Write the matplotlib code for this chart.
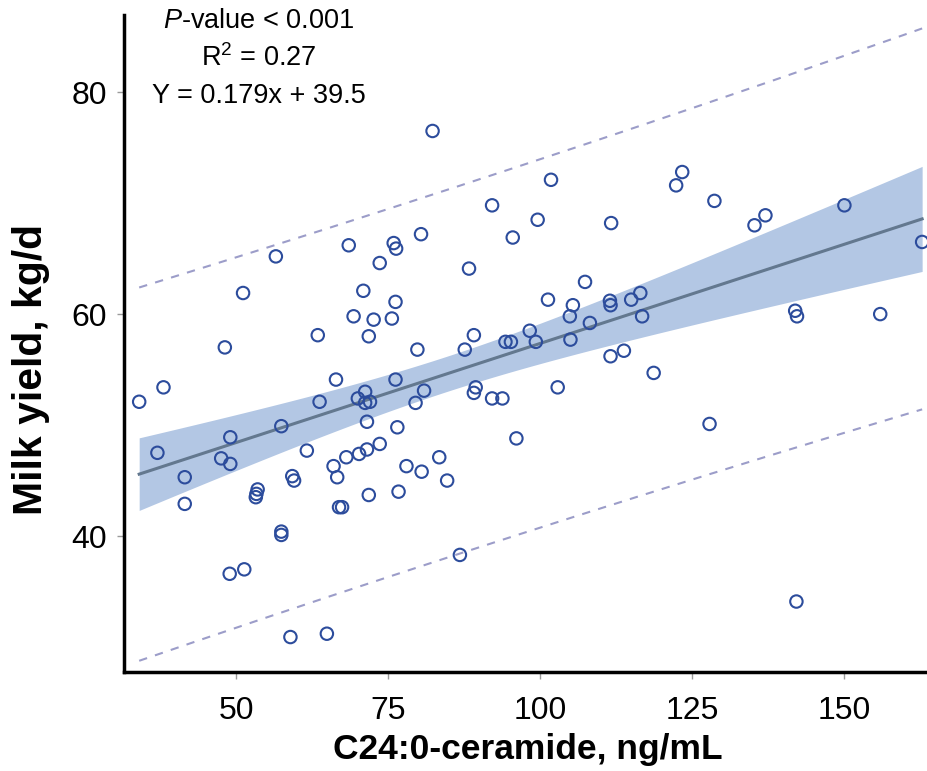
import numpy as np
import matplotlib
matplotlib.use("Agg")
import matplotlib.pyplot as plt

plt.rcParams['font.family'] = ['Liberation Sans', 'DejaVu Sans']
plt.rcParams['mathtext.fontset'] = 'custom'
plt.rcParams['mathtext.rm'] = 'Liberation Sans'
plt.rcParams['mathtext.it'] = 'Liberation Sans:italic'

# C24:0-ceramide (ng/mL) and milk yield (kg/d)
ceramide = [56.5, 51.1, 68.5, 75.9, 76.3, 73.6, 70.9, 76.2, 69.3, 72.6,
            75.6, 63.4, 71.8, 48.1, 34.0, 38.0, 66.4, 76.2, 63.7, 71.2,
            70.0, 71.2, 72.0, 71.5, 76.5, 57.4, 49.0, 37.0, 47.5, 49.0,
            41.5, 41.5, 61.6, 66.0, 66.6, 68.1, 70.2, 71.5, 73.6, 59.2,
            59.5, 53.5, 53.3, 53.2, 71.8, 76.7, 66.9, 67.4, 57.4, 57.4,
            48.9, 51.3, 58.9, 64.9, 82.3, 101.8, 92.1, 99.6, 111.7, 95.5,
            80.4, 88.3, 107.4, 101.3, 105.4, 104.9, 111.5, 111.6, 115.0, 116.5,
            116.8, 108.2, 98.3, 89.1, 94.3, 95.2, 99.3, 105.0, 79.8, 87.6,
            111.6, 113.8, 118.7, 80.9, 79.5, 89.4, 89.1, 92.1, 93.8, 102.9,
            96.1, 83.4, 78.0, 80.5, 84.7, 86.8, 123.4, 122.4, 128.7, 137.1,
            135.3, 150.1, 162.9, 142.0, 142.3, 156.0, 127.9, 142.2]
milk = [65.2, 61.9, 66.2, 66.4, 65.9, 64.6, 62.1, 61.1, 59.8, 59.5,
        59.6, 58.1, 58.0, 57.0, 52.1, 53.4, 54.1, 54.1, 52.1, 53.0,
        52.4, 52.0, 52.1, 50.3, 49.8, 49.9, 48.9, 47.5, 47.0, 46.5,
        45.3, 42.9, 47.7, 46.3, 45.3, 47.1, 47.4, 47.8, 48.3, 45.4,
        45.0, 44.2, 43.8, 43.5, 43.7, 44.0, 42.6, 42.6, 40.4, 40.1,
        36.6, 37.0, 30.9, 31.2, 76.5, 72.1, 69.8, 68.5, 68.2, 66.9,
        67.2, 64.1, 62.9, 61.3, 60.8, 59.8, 61.2, 60.8, 61.3, 61.9,
        59.8, 59.2, 58.5, 58.1, 57.5, 57.5, 57.5, 57.7, 56.8, 56.8,
        56.2, 56.7, 54.7, 53.1, 52.0, 53.4, 52.9, 52.4, 52.4, 53.4,
        48.8, 47.1, 46.3, 45.8, 45.0, 38.3, 72.8, 71.6, 70.2, 68.9,
        68.0, 69.8, 66.5, 60.3, 59.8, 60.0, 50.1, 34.1]

stats_lines = [r'$\it{P}$-value < 0.001', r'R$^2$ = 0.27', 'Y = 0.179x + 39.5']

x = np.array(ceramide)
y = np.array(milk)
n = len(x)

# least squares fit with 95% confidence band and prediction interval
slope, intercept = np.polyfit(x, y, 1)
resid = y - (slope * x + intercept)
s = np.sqrt(np.sum(resid ** 2) / (n - 2))
t = 1.98
xs = np.linspace(x.min(), x.max(), 200)
fit = slope * xs + intercept
sxx = np.sum((x - x.mean()) ** 2)
se_mean = s * np.sqrt(1 / n + (xs - x.mean()) ** 2 / sxx)
se_pred = s * np.sqrt(1 + 1 / n + (xs - x.mean()) ** 2 / sxx)

fig = plt.figure(figsize=(9.27, 7.71), dpi=100)
ax = fig.add_axes([124 / 927, 99 / 771, 1 - 124 / 927, (672 - 15) / 771])

ax.fill_between(xs, fit - t * se_mean, fit + t * se_mean, color='#b3c7e4', lw=0, zorder=1)
ax.plot(xs, fit, color='#63788f', lw=2.2, zorder=2)
ax.plot(xs, fit + t * se_pred, color='#9c9dc9', lw=1.5, ls=(0, (4, 4)), zorder=2)
ax.plot(xs, fit - t * se_pred, color='#9c9dc9', lw=1.5, ls=(0, (4, 4)), zorder=2)
ax.scatter(x, y, s=80, facecolors='none', edgecolors='#2c4c9c', linewidths=1.5, zorder=3)

ax.set_xlim(31.5, 163.7)
ax.set_ylim(27.75, 86.95)
ax.set_xticks([50, 75, 100, 125, 150])
ax.set_yticks([40, 60, 80])
ax.tick_params(axis='both', labelsize=23, length=5, width=1, color='#9a9a9a')
ax.tick_params(axis='x', pad=12)
ax.tick_params(axis='y', pad=7)

for side in ['top', 'right']:
    ax.spines[side].set_visible(False)
for side in ['left', 'bottom']:
    ax.spines[side].set_linewidth(2.5)

ax.set_xlabel('C24:0-ceramide, ng/mL', fontsize=25.5, fontweight='bold')
ax.set_ylabel('Milk yield, kg/d', fontsize=29.5, fontweight='bold')
ax.xaxis.set_label_coords(0.503, -0.118)
ax.xaxis.label.set_va('center')
ax.yaxis.set_label_coords(-0.116, 0.46)
ax.yaxis.label.set_va('center')

for i, line in enumerate(stats_lines):
    fig.text(259 / 927, 1 - (21 + 37.5 * i) / 771, line, fontsize=19.5,
             ha='center', va='center')

fig.savefig('out.png', dpi=100)
